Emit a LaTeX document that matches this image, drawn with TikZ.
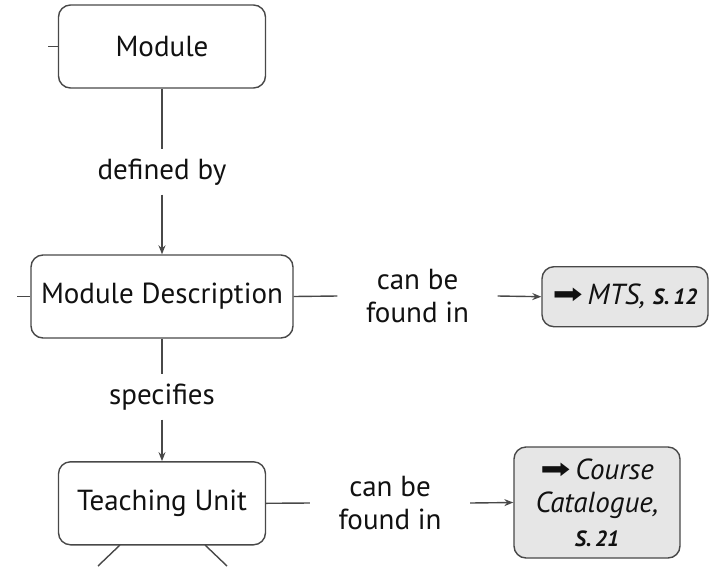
\documentclass[tikz,border=0pt]{standalone}
\usepackage{fontspec}
\usepackage{graphicx}
\setmainfont{PT Sans}
\newfontfamily\symfont{DejaVu Sans}
\usetikzlibrary{arrows.meta}
\definecolor{boxline}{HTML}{484848}
\definecolor{boxfill}{HTML}{E6E6E6}
\definecolor{txt}{HTML}{111111}
\begin{document}
\begin{tikzpicture}[x=1pt,y=-1pt,
  font=\fontsize{29}{33}\selectfont, text=txt,
  box/.style={draw=boxline, line width=1.4pt, rounded corners=12pt, align=center, inner sep=0pt},
  refbox/.style={box, fill=boxfill, font=\fontsize{29}{33.5}\selectfont\itshape},
  lbl/.style={align=center, inner xsep=0pt, inner ysep=0pt},
  conn/.style={draw=boxline, line width=1.4pt},
  arr/.style={conn, -{Stealth[length=9pt,width=7pt,inset=3pt]}}]
\useasboundingbox (0,0) rectangle (710,566);
\newcommand{\pg}[1]{{\fontsize{22}{24}\selectfont\bfseries #1}}
\newcommand{\rarr}{\raisebox{1pt}{\scalebox{1.5}[1.15]{\upshape\symfont\fontsize{24}{24}\selectfont ➡}}}

\node[box, minimum width=207pt, minimum height=83pt] (mod) at (162,46.5) {Module};
\node[box, minimum width=262pt, minimum height=83pt] (md) at (162,296.5) {Module Description};
\node[box, minimum width=207pt, minimum height=83pt] (tu) at (162,503.3) {Teaching Unit};
\node[refbox, minimum width=166pt, minimum height=60pt] (mts) at (625,296.7) {\rarr\,MTS, \pg{S.\,12}};
\node[refbox, minimum width=166pt, minimum height=111pt] (cc) at (597,502.5) {\rarr\,Course\\Catalogue,\\\pg{S.\,21}};

\node[lbl, minimum height=45pt] (def) at (162,172) {defined by};
\node[lbl, minimum height=45pt] (spec) at (162,397) {specifies};
\node[lbl, minimum width=160pt] (f1) at (417.5,296) {can be\\found in};
\node[lbl, minimum width=160pt] (f2) at (390,503) {can be\\found in};

\coordinate (s1) at (48,46.5);
\coordinate (s2) at (17,296.5);
\coordinate (b1) at (98,566);
\coordinate (b2) at (227,566);
\coordinate (tuL) at (120,545);
\coordinate (tuR) at (205,545);

\draw[conn] (s1) -- (mod.west);
\draw[conn] (s2) -- (md.west);
\draw[conn] (mod.south) -- (def.north);
\draw[arr] (def.south) -- (md.north);
\draw[conn] (md.south) -- (spec.north);
\draw[arr] (spec.south) -- (tu.north);
\draw[conn] (md.east) -- (f1.west);
\draw[arr] (f1.east) -- (mts.west);
\draw[conn] (tu.east) -- (f2.west);
\draw[arr] (f2.east) -- (cc.west);
\draw[conn] (tuL) -- (b1);
\draw[conn] (tuR) -- (b2);
\end{tikzpicture}
\end{document}
